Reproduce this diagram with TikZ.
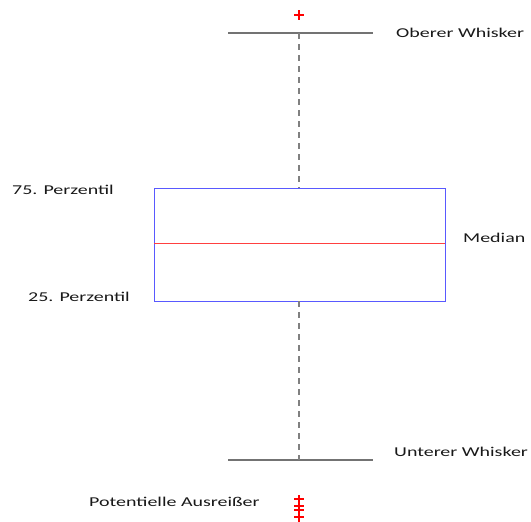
\documentclass[tikz,border=0pt]{standalone}
\usepackage{fontspec}
\usepackage{graphicx}
\setmainfont{Carlito}
\newcommand{\wide}[1]{\scalebox{1.48}[1]{#1}}
\begin{document}
\begin{tikzpicture}[x=1pt,y=-1pt,
  lbl/.style={font=\fontsize{13.5}{16}\selectfont, text=black!90, inner sep=0pt},
  whisk/.style={draw=black!55, line width=1.3pt},
  dashln/.style={draw=black!50, line width=2.2pt, dash pattern=on 6pt off 5pt},
  outl/.style={draw=red, line width=1.3pt}]
\useasboundingbox (0,0) rectangle (531,522);
\fill[white] (0,0) rectangle (531,522);
% box
\node[draw=blue!65, line width=1.4pt, minimum width=291pt, minimum height=113pt, inner sep=0pt, anchor=north west] (box) at (154,188) {};
\coordinate (mL) at (154,243);
\coordinate (mR) at (445,243);
\draw[draw=red!75, line width=0.9pt] (mL) -- (mR);
% whiskers
\coordinate (uwL) at (228,33); \coordinate (uwR) at (373,33); \coordinate (uwC) at (299,33);
\coordinate (lwL) at (228,460); \coordinate (lwR) at (373,460); \coordinate (lwC) at (299,460);
\draw[whisk] (uwL) -- (uwR);
\draw[whisk] (lwL) -- (lwR);
\draw[dashln] (uwC) -- (299,188);
\draw[dashln] (299,301) -- (lwC);
% outliers
\foreach \yy in {15} {\draw[outl] (294,\yy) -- (304,\yy) (299,\yy-5) -- (299,\yy+5);}
\foreach \yy in {499,506,510,517} {\draw[outl] (294,\yy) -- (304,\yy);}
\draw[outl] (299,495) -- (299,522);
% labels
\node[lbl, anchor=west] (t1) at (396,33) {\wide{Oberer Whisker}};
\node[lbl, anchor=west] (t2) at (12,190) {\wide{75. Perzentil}};
\node[lbl, anchor=west] (t3) at (463,238) {\wide{Median}};
\node[lbl, anchor=west] (t4) at (28,297) {\wide{25. Perzentil}};
\node[lbl, anchor=west] (t5) at (394,452) {\wide{Unterer Whisker}};
\node[lbl, anchor=west] (t6) at (89,502) {\wide{Potentielle Ausreißer}};
\end{tikzpicture}
\end{document}
